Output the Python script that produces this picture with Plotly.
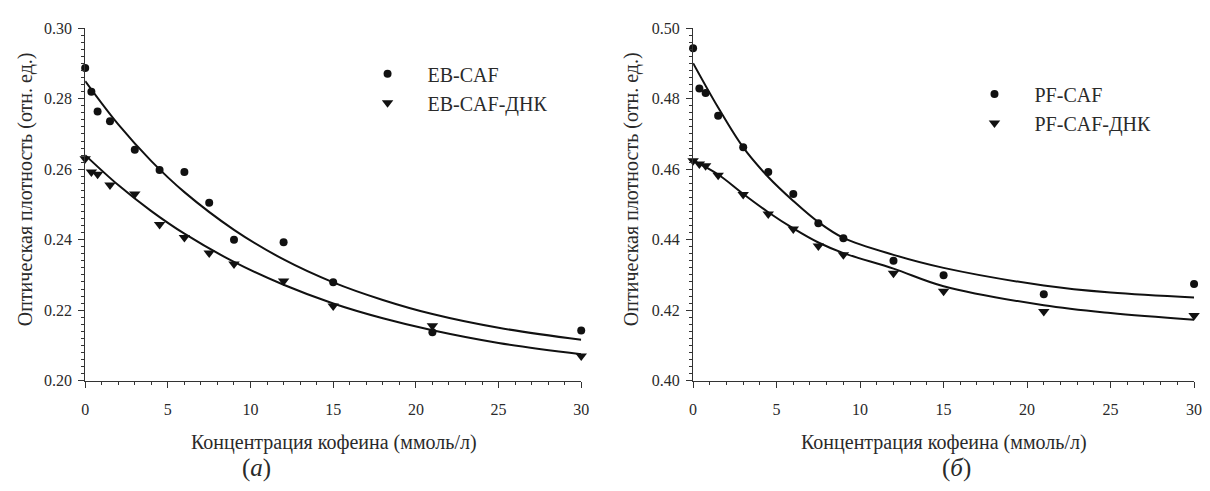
import plotly.graph_objects as go

# ---- data ----
conc = [0, 0.375, 0.75, 1.5, 3, 4.5, 6, 7.5, 9, 12, 15, 21, 30]
eb_caf = [0.2887, 0.2820, 0.2764, 0.2736, 0.2655, 0.2598, 0.2592, 0.2505, 0.2400, 0.2393, 0.2279, 0.2137, 0.2142]
eb_caf_dnk = [0.2630, 0.2592, 0.2586, 0.2555, 0.2530, 0.2443, 0.2406, 0.2362, 0.2331, 0.2283, 0.2212, 0.2156, 0.2070]
pf_caf = [0.4943, 0.4829, 0.4816, 0.4752, 0.4662, 0.4592, 0.4530, 0.4447, 0.4404, 0.4340, 0.4299, 0.4245, 0.4274]
pf_caf_dnk = [0.4624, 0.4615, 0.4610, 0.4583, 0.4528, 0.4473, 0.4430, 0.4382, 0.4357, 0.4305, 0.4254, 0.4196, 0.4185]

fit_x_left = [0, 2, 4, 6, 9, 12, 15, 18, 21, 25, 30]
eb_caf_fit = [0.2850, 0.2727, 0.2623, 0.2535, 0.2428, 0.2344, 0.2279, 0.2229, 0.2189, 0.2150, 0.2116]
eb_caf_dnk_fit = [0.2640, 0.2555, 0.2481, 0.2417, 0.2337, 0.2272, 0.2219, 0.2177, 0.2143, 0.2107, 0.2075]

fit_x_right = [0, 1.5, 3, 4.5, 6, 7.5, 9, 12, 15, 21, 25, 30]
pf_caf_fit = [0.4901, 0.4775, 0.4662, 0.4578, 0.4510, 0.4450, 0.4405, 0.4357, 0.4320, 0.4270, 0.4250, 0.4236]
pf_caf_dnk_fit = [0.4625, 0.4585, 0.4530, 0.4478, 0.4432, 0.4392, 0.4362, 0.4318, 0.4268, 0.4214, 0.4192, 0.4173]

x_title = "Концентрация кофеина (ммоль/л)"
y_title = "Оптическая плотность (отн. ед.)"
panel_labels = ["(<i>а</i>)", "(<i>б</i>)"]

FONT = "Liberation Serif, Times New Roman, serif"
TXT = "#2a2a2a"
AX = "#333333"

fig = go.Figure()

def curve(x, y, xa, ya):
    fig.add_trace(go.Scatter(x=x, y=y, mode="lines", line=dict(color="#111111", width=2, shape="spline"),
                             xaxis=xa, yaxis=ya, showlegend=False, hoverinfo="skip"))

def pts(x, y, name, sym, size, xa, ya, leg):
    fig.add_trace(go.Scatter(x=x, y=y, mode="markers", name=name,
                             marker=dict(symbol=sym, size=size, color="#111111"),
                             xaxis=xa, yaxis=ya, legend=leg, cliponaxis=False))

curve(fit_x_left, eb_caf_fit, "x", "y")
curve(fit_x_left, eb_caf_dnk_fit, "x", "y")
pts(conc, eb_caf, "EB-CAF", "circle", 8, "x", "y", "legend")
pts(conc, eb_caf_dnk, "EB-CAF-ДНК", "triangle-down", 10, "x", "y", "legend")

curve(fit_x_right, pf_caf_fit, "x2", "y2")
curve(fit_x_right, pf_caf_dnk_fit, "x2", "y2")
pts(conc, pf_caf, "PF-CAF", "circle", 8, "x2", "y2", "legend2")
pts(conc, pf_caf_dnk, "PF-CAF-ДНК", "triangle-down", 10, "x2", "y2", "legend2")

xcommon = dict(range=[0, 30], dtick=5, tick0=0, showline=True, linecolor=AX, linewidth=1.2,
               ticks="outside", ticklen=6, tickwidth=1, tickcolor=AX, showgrid=False, zeroline=False,
               minor=dict(ticks="outside", ticklen=3, dtick=1, tickcolor=AX, showgrid=False),
               ticklabelstandoff=8,
               tickfont=dict(family=FONT, size=16, color=TXT), fixedrange=True)
ycommon = dict(dtick=0.02, tickformat=".2f", showline=True, linecolor=AX, linewidth=1.2,
               ticks="outside", ticklen=6, tickwidth=1, tickcolor=AX, showgrid=False, zeroline=False,
               minor=dict(ticks="outside", ticklen=3, dtick=0.002, tickcolor=AX, showgrid=False),
               ticklabelstandoff=3,
               tickfont=dict(family=FONT, size=16, color=TXT), fixedrange=True)

W, H = 1210, 491
yd = [1 - 386 / H, 1 - 21 / H]

legcommon = dict(xanchor="left", yanchor="top", bgcolor="rgba(0,0,0,0)",
                 font=dict(family=FONT, size=20, color=TXT), itemwidth=70, tracegroupgap=0)

fig.update_layout(
    width=W, height=H, margin=dict(l=0, r=0, t=0, b=0),
    paper_bgcolor="white", plot_bgcolor="white",
    font=dict(family=FONT, color=TXT),
    xaxis=dict(domain=[82 / W, 583 / W], anchor="y", **xcommon),
    yaxis=dict(domain=yd, range=[0.20, 0.30], tick0=0.20, anchor="x", **ycommon),
    xaxis2=dict(domain=[696 / W, 1202 / W], anchor="y2", **xcommon),
    yaxis2=dict(domain=yd, range=[0.40, 0.50], tick0=0.40, anchor="x2", **ycommon),
    legend=dict(x=347 / W, y=1 - 48 / H, **legcommon),
    legend2=dict(x=960 / W, y=1 - 69 / H, **legcommon),
    showlegend=True,
)

annotations = []
for cx, ycx in [(333, 22), (949, 634)]:
    annotations.append(dict(text=x_title, x=cx / W, y=1 - 450 / H, xref="paper", yref="paper",
                            xanchor="center", yanchor="middle",
                            showarrow=False, font=dict(family=FONT, size=20, color=TXT)))
    annotations.append(dict(text=y_title, x=ycx / W, y=1 - 188 / H, xref="paper", yref="paper",
                            xanchor="center", yanchor="middle",
                            textangle=-90, showarrow=False, font=dict(family=FONT, size=20, color=TXT)))
for lbl, pcx in zip(panel_labels, [255, 962]):
    annotations.append(dict(text=lbl, x=pcx / W, y=1 - 477 / H, xref="paper", yref="paper",
                            xanchor="center", yanchor="middle",
                            showarrow=False, font=dict(family=FONT, size=25, color=TXT)))
fig.update_layout(annotations=annotations)

fig.write_html("out.html", config={"displayModeBar": False})
